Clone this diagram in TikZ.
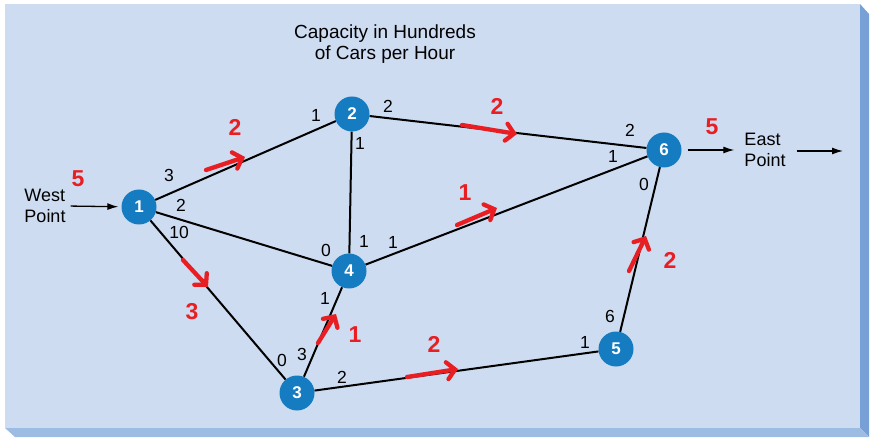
\documentclass[tikz,border=0pt]{standalone}
\usepackage{fontspec}
\setmainfont{Liberation Sans}
\usetikzlibrary{arrows.meta,calc}
\definecolor{panel}{RGB}{205,220,240}
\definecolor{sideband}{RGB}{118,160,214}
\definecolor{botband}{RGB}{156,188,228}
\definecolor{nodeblue}{RGB}{22,124,194}
\definecolor{anno}{RGB}{232,30,35}
\begin{document}
\begin{tikzpicture}[x=1pt,y=-1pt,
 vertex/.style={circle,fill=nodeblue,minimum size=35pt,inner sep=0pt,text=white,font=\fontsize{17}{17}\selectfont\bfseries},
 edge/.style={line width=2pt},
 lab/.style={font=\fontsize{17.5}{17.5}\selectfont,inner sep=0pt},
 place/.style={font=\fontsize{18}{21}\selectfont,inner sep=0pt,align=left},
 titletxt/.style={font=\fontsize{19}{21}\selectfont,inner sep=0pt,anchor=base},
 redtxt/.style={text=anno,font=\fontsize{23}{23}\selectfont\bfseries,inner sep=0pt},
 redarrow/.style={draw=anno,line width=4.3pt,line cap=round,-{Straight Barb[length=8pt,width=17pt,line cap=round]}},
 flowarrow/.style={line width=1.3pt,-{Latex[length=11pt,width=7pt]}}]
\useasboundingbox (0,0) rectangle (877,443);
% panel
\fill[panel] (5,4) rectangle (860,428);
\fill[sideband] (860,4) -- (869,14) -- (869,437) -- (860,428) -- cycle;
\fill[botband] (5,428) -- (860,428) -- (869,437) -- (15,437) -- cycle;
% title
\node[titletxt] (t1) at (385,39) {Capacity in Hundreds};
\node[titletxt] (t2) at (385,60) {of Cars per Hour};
% nodes
\node[vertex] (n1) at (139,207) {1};
\node[vertex] (n2) at (352,114) {2};
\node[vertex] (n3) at (297,393) {3};
\node[vertex] (n4) at (349,271) {4};
\node[vertex] (n5) at (616,349) {5};
\node[vertex] (n6) at (664,150) {6};
% edges
\draw[edge] (n1) -- (n2);
\draw[edge] (n1) -- (n4);
\draw[edge] (n1) -- (n3);
\draw[edge] (n2) -- (n4);
\draw[edge] (n2) -- (n6);
\draw[edge] (n4) -- (n6);
\draw[edge] (n3) -- (n4);
\draw[edge] (n3) -- (n5);
\draw[edge] (n5) -- (n6);
% source / sink
\node[place] (west) at (45,206) {West\\Point};
\node[place] (east) at (765,150) {East\\Point};
\coordinate (out) at (843,151);
\draw[flowarrow,shorten <=5pt,shorten >=3pt] (west.east) -- (n1);
\draw[flowarrow,shorten <=6pt,shorten >=10pt] (n6) -- (east.west |- n6);
\draw[flowarrow,shorten <=11pt] (east.east |- out) -- (out);
% capacity labels
\node[lab] at (169,175) {3};
\node[lab] at (181,205) {2};
\node[lab] at (179,232) {10};
\node[lab] at (316,115) {1};
\node[lab] at (360,143) {1};
\node[lab] at (388,106) {2};
\node[lab] at (630,130) {2};
\node[lab] at (613,156) {1};
\node[lab] at (644,184) {0};
\node[lab] at (326,250) {0};
\node[lab] at (364,241) {1};
\node[lab] at (393,242) {1};
\node[lab] at (325,298) {1};
\node[lab] at (282,360) {0};
\node[lab] at (302,354) {3};
\node[lab] at (342,377) {2};
\node[lab] at (585,342) {1};
\node[lab] at (610,316) {6};
% red flow annotations
\node[redtxt] at (78,179) {5};
\node[redtxt] at (235,127) {2};
\node[redtxt] at (192,312) {3};
\node[redtxt] at (497,106) {2};
\node[redtxt] at (465,193) {1};
\node[redtxt] at (712,127) {5};
\node[redtxt] at (670,260) {2};
\node[redtxt] at (355,335) {1};
\node[redtxt] at (434,344) {2};
\coordinate (a12s) at (206,170); \coordinate (a12e) at (245,157);
\coordinate (a13s) at (183,260); \coordinate (a13e) at (208,287);
\coordinate (a26s) at (462,125); \coordinate (a26e) at (517,134);
\coordinate (a46s) at (457,225); \coordinate (a46e) at (497,208);
\coordinate (a56s) at (629,271); \coordinate (a56e) at (646,236);
\coordinate (a34s) at (318,343); \coordinate (a34e) at (336,314);
\coordinate (a35s) at (407,377); \coordinate (a35e) at (458,369);
\draw[redarrow] (a12s) -- (a12e);
\draw[redarrow] (a13s) -- (a13e);
\draw[redarrow] (a26s) -- (a26e);
\draw[redarrow] (a46s) -- (a46e);
\draw[redarrow] (a56s) -- (a56e);
\draw[redarrow] (a34s) -- (a34e);
\draw[redarrow] (a35s) -- (a35e);
\end{tikzpicture}
\end{document}
